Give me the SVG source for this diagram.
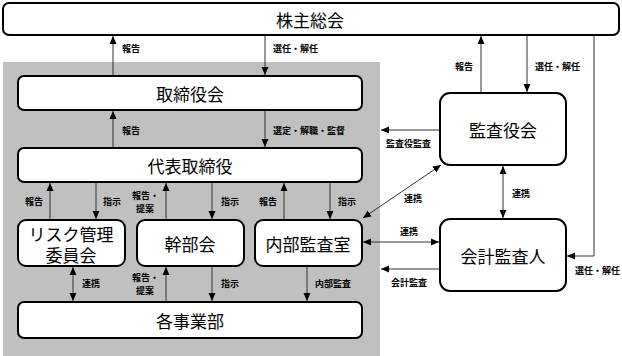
<svg xmlns="http://www.w3.org/2000/svg" width="622" height="356" viewBox="0 0 622 356">
<style>
.box{fill:#fff;stroke:#000;stroke-width:2}
.t{font-family:"Noto Sans CJK JP","Noto Sans",sans-serif;font-size:17px;fill:#000;text-anchor:middle;dominant-baseline:central}
.l{font-family:"Noto Sans CJK JP","Noto Sans",sans-serif;font-size:9px;fill:#000;font-weight:bold;dominant-baseline:central}
.c{fill:none;stroke:#333;stroke-width:1}
</style>
<defs>
<marker id="ah" viewBox="0 0 8 8" refX="8" refY="4" markerWidth="8" markerHeight="8" markerUnits="userSpaceOnUse" orient="auto-start-reverse">
<path d="M0,0.5 L8,4 L0,7.5 Z" fill="#000"/>
</marker>
</defs>
<rect x="3" y="62" width="377" height="294" fill="#c0c0c0"/>
<g id="connectors">
<line class="c" x1="113" y1="76" x2="113" y2="36" marker-end="url(#ah)"/>
<line class="c" x1="265" y1="36" x2="265" y2="75" marker-end="url(#ah)"/>
<line class="c" x1="113" y1="148" x2="113" y2="111" marker-end="url(#ah)"/>
<line class="c" x1="265" y1="111" x2="265" y2="147" marker-end="url(#ah)"/>
<line class="c" x1="50" y1="220" x2="50" y2="183" marker-end="url(#ah)"/>
<line class="c" x1="96" y1="183" x2="96" y2="219" marker-end="url(#ah)"/>
<line class="c" x1="166" y1="220" x2="166" y2="183" marker-end="url(#ah)"/>
<line class="c" x1="212" y1="183" x2="212" y2="219" marker-end="url(#ah)"/>
<line class="c" x1="284" y1="220" x2="284" y2="183" marker-end="url(#ah)"/>
<line class="c" x1="330" y1="183" x2="330" y2="219" marker-end="url(#ah)"/>
<line class="c" x1="73" y1="267" x2="73" y2="301" marker-start="url(#ah)" marker-end="url(#ah)"/>
<line class="c" x1="166" y1="302" x2="166" y2="267" marker-end="url(#ah)"/>
<line class="c" x1="212" y1="267" x2="212" y2="301" marker-end="url(#ah)"/>
<line class="c" x1="307" y1="267" x2="307" y2="301" marker-end="url(#ah)"/>
<line class="c" x1="481" y1="93" x2="481" y2="36" marker-end="url(#ah)"/>
<line class="c" x1="527" y1="36" x2="527" y2="92" marker-end="url(#ah)"/>
<line class="c" x1="440" y1="130" x2="381" y2="130" marker-end="url(#ah)"/>
<line class="c" x1="363" y1="218" x2="441" y2="165" marker-start="url(#ah)" marker-end="url(#ah)"/>
<line class="c" x1="503" y1="166" x2="503" y2="218" marker-start="url(#ah)" marker-end="url(#ah)"/>
<line class="c" x1="363" y1="242" x2="439" y2="242" marker-start="url(#ah)" marker-end="url(#ah)"/>
<line class="c" x1="440" y1="269" x2="381" y2="269" marker-end="url(#ah)"/>
<polyline class="c" points="594,36 594,256 567,256" marker-end="url(#ah)"/>
<text class="l" x="122" y="48">報告</text>
<text class="l" x="273" y="48">選任・解任</text>
<text class="l" x="122" y="130">報告</text>
<text class="l" x="273" y="130">選定・解職・監督</text>
<text class="l" x="25" y="201">報告</text>
<text class="l" x="103" y="201">指示</text>
<text class="l" x="132" y="195">報告・</text>
<text class="l" x="136" y="208">提案</text>
<text class="l" x="221" y="201">指示</text>
<text class="l" x="259" y="201">報告</text>
<text class="l" x="338" y="201">指示</text>
<text class="l" x="82" y="283">連携</text>
<text class="l" x="132" y="277">報告・</text>
<text class="l" x="136" y="290">提案</text>
<text class="l" x="221" y="283">指示</text>
<text class="l" x="315" y="283">内部監査</text>
<text class="l" x="455" y="66">報告</text>
<text class="l" x="535" y="66">選任・解任</text>
<text class="l" x="386" y="143">監査役監査</text>
<text class="l" x="404" y="198">連携</text>
<text class="l" x="512" y="193">連携</text>
<text class="l" x="400" y="231">連携</text>
<text class="l" x="391" y="282">会計監査</text>
<text class="l" x="575" y="270">選任・解任</text>
</g>
<g id="shareholders"><rect class="box" x="3" y="3" width="616" height="32" rx="6"/><text class="t" x="310" y="19">株主総会</text></g>
<g id="board"><rect class="box" x="18" y="76" width="344" height="34" rx="6"/><text class="t" x="190" y="93">取締役会</text></g>
<g id="ceo"><rect class="box" x="18" y="148" width="344" height="34" rx="6"/><text class="t" x="190" y="165">代表取締役</text></g>
<g id="risk"><rect class="box" x="18" y="220" width="107" height="46" rx="8"/><text class="t" x="71" y="233">リスク管理</text><text class="t" x="71" y="254">委員会</text></g>
<g id="exec"><rect class="box" x="137" y="220" width="107" height="46" rx="8"/><text class="t" x="190" y="243">幹部会</text></g>
<g id="audit-office"><rect class="box" x="255" y="220" width="107" height="46" rx="8"/><text class="t" x="308" y="243">内部監査室</text></g>
<g id="divisions"><rect class="box" x="18" y="302" width="344" height="36" rx="6"/><text class="t" x="190" y="320">各事業部</text></g>
<g id="auditors"><rect class="box" x="440" y="93" width="126" height="72" rx="10"/><text class="t" x="503" y="129">監査役会</text></g>
<g id="accountant"><rect class="box" x="440" y="219" width="126" height="72" rx="10"/><text class="t" x="503" y="255">会計監査人</text></g>
</svg>
